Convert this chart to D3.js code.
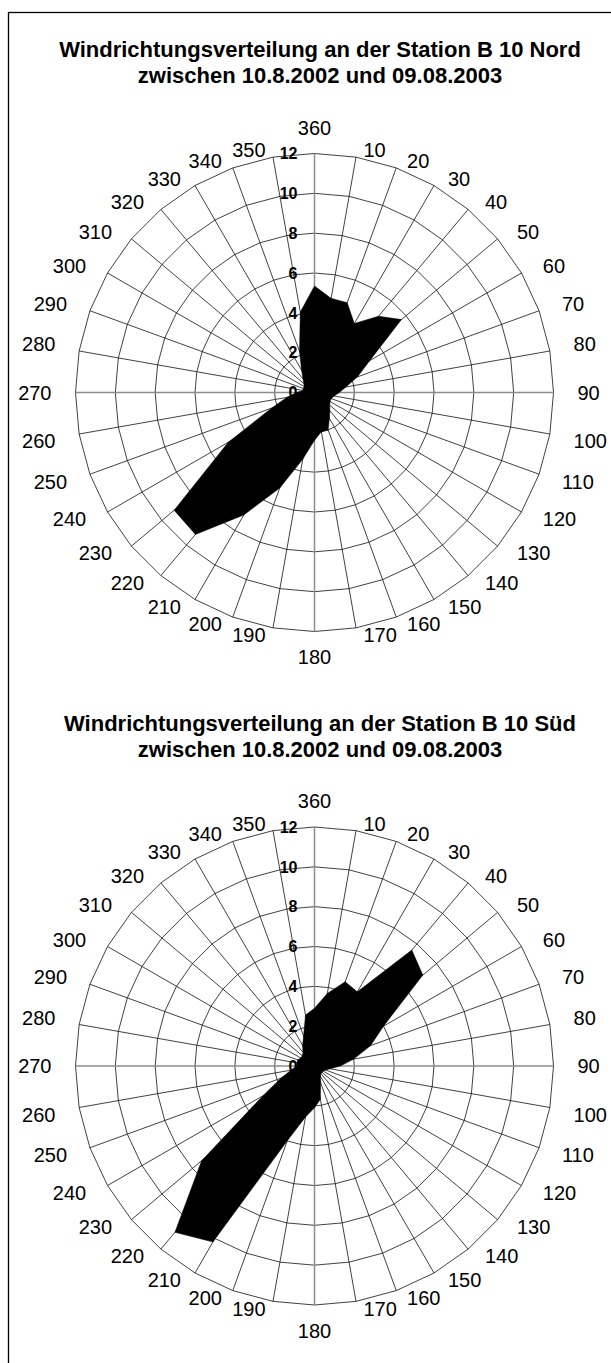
<!DOCTYPE html>
<html>
<head>
<meta charset="utf-8">
<script src="https://cdn.jsdelivr.net/npm/d3@7"></script>
<style>
  body { margin: 0; background: #fff; }
  svg { display: block; }
  text { font-family: Arial, "Liberation Sans", sans-serif; fill: #000; }
</style>
</head>
<body>
<svg id="chart" width="611" height="1363"></svg>
<script>
// Windrichtungen (Grad), im Uhrzeigersinn ab Nord
const directions = [10, 20, 30, 40, 50, 60, 70, 80, 90, 100, 110, 120,
                    130, 140, 150, 160, 170, 180, 190, 200, 210, 220, 230, 240,
                    250, 260, 270, 280, 290, 300, 310, 320, 330, 340, 350, 360];

// Häufigkeit in % – Station B 10 Nord
const nordValues = [4.8, 4.8, 4.0, 5.0, 5.7, 3.2, 2.3, 1.6, 1.25, 1.0, 0.9, 0.9,
                    1.0, 1.2, 1.5, 2.0, 2.0, 2.4, 3.4, 5.1, 7.1, 9.3, 9.2, 5.0,
                    2.3, 1.4, 0.9, 0.6, 0.6, 0.6, 0.7, 0.9, 1.3, 2.2, 4.1, 5.35];

// Häufigkeit in % – Station B 10 Süd
const suedValues = [3.7, 4.5, 4.3, 7.6, 7.1, 4.0, 3.0, 2.0, 1.3, 0.8, 0.6, 0.5,
                    0.5, 0.5, 0.6, 0.9, 1.7, 2.1, 2.6, 4.0, 10.2, 10.9, 7.4, 3.0,
                    1.8, 1.2, 0.9, 0.9, 0.9, 0.8, 0.8, 0.9, 1.2, 1.6, 2.6, 2.9];

const radialTicks = [0, 2, 4, 6, 8, 10, 12];
const subTitle = "zwischen 10.8.2002 und 09.08.2003";
const titleNord = ["Windrichtungsverteilung an der Station B 10 Nord", subTitle];
const titleSued = ["Windrichtungsverteilung an der Station B 10 Süd", subTitle];

const svg = d3.select("#chart");
const R = 239;

svg.append("rect").attr("width", 611).attr("height", 1363).attr("fill", "#fff");
// Rahmen (rechts und unten außerhalb des Bildes)
svg.append("rect")
    .attr("x", 8.5).attr("y", 12.5)
    .attr("width", 700).attr("height", 1500)
    .attr("fill", "none").attr("stroke", "#000").attr("stroke-width", 1.3);

const r = d3.scaleLinear().domain([0, 12]).range([0, R]);
const angle = d3.scaleLinear().domain([0, 360]).range([0, 2 * Math.PI]);

function drawRose(cx, cy, titleLines, values) {
    // Titel
    svg.selectAll(null)
        .data(titleLines)
        .enter()
        .append("text")
        .attr("x", 320)
        .attr("y", (d, i) => cy - 335.5 + i * 26)
        .attr("text-anchor", "middle")
        .attr("font-weight", "bold")
        .attr("font-size", 22)
        .text(d => d);

    const g = svg.append("g").attr("transform", `translate(${cx},${cy})`);

    // Ringe (Polygone)
    const ring = d3.lineRadial()
        .angle(d => angle(d.dir))
        .radius(d => r(d.v))
        .curve(d3.curveLinearClosed);

    radialTicks.filter(t => t > 0).forEach(t => {
        g.append("path")
            .attr("d", ring(directions.map(dir => ({ dir: dir, v: t }))))
            .attr("fill", "none")
            .attr("stroke", "#111")
            .attr("stroke-width", 0.8);
    });

    // Speichen
    g.selectAll(".spoke")
        .data(directions)
        .enter()
        .append("line")
        .attr("class", "spoke")
        .attr("x1", 0).attr("y1", 0)
        .attr("x2", d => r(12) * Math.sin(angle(d)))
        .attr("y2", d => -r(12) * Math.cos(angle(d)))
        .attr("stroke", d => d % 90 === 0 ? "#8c8c8c" : "#111")
        .attr("stroke-width", d => d % 90 === 0 ? 1.5 : 0.8);

    // Daten
    g.append("path")
        .attr("d", ring(directions.map((dir, i) => ({ dir: dir, v: values[i] }))))
        .attr("fill", "#000")
        .attr("stroke", "#000")
        .attr("stroke-width", 0.5);

    // Achsenbeschriftung Werte
    g.selectAll(".rtick")
        .data(radialTicks)
        .enter()
        .append("text")
        .attr("class", "rtick")
        .attr("x", -17)
        .attr("y", d => -r(d))
        .attr("dy", "0.36em")
        .attr("text-anchor", "end")
        .attr("font-weight", "bold")
        .attr("font-size", 16)
        .text(d => d);

    // Richtungsbeschriftung: Ecke des Textfelds am Speichenende, seitlich versetzt
    const capH = 14.3;
    g.selectAll(".cat")
        .data(directions)
        .enter()
        .append("text")
        .attr("class", "cat")
        .attr("font-size", 20)
        .text(d => d)
        .each(function (d) {
            const t = d3.select(this);
            const a = angle(d), s = Math.sin(a), c = Math.cos(a);
            const ex = R * s, ey = -R * c;
            if (d % 180 === 0) {
                t.attr("text-anchor", "middle").attr("x", 0)
                    .attr("y", c > 0 ? -(R + 19) : R + 18.5 + capH);
            } else if (d % 90 === 0) {
                t.attr("text-anchor", s > 0 ? "start" : "end")
                    .attr("x", s * (R + 24))
                    .attr("y", capH / 2);
            } else {
                const gx = 4 + 20 * Math.abs(s);
                t.attr("text-anchor", s > 0 ? "start" : "end")
                    .attr("x", ex + (s > 0 ? gx : -gx))
                    .attr("y", c > 0 ? ey : ey + capH);
            }
        });
}

drawRose(314.5, 392.5, titleNord, nordValues);
drawRose(314.5, 1066, titleSued, suedValues);
</script>
</body>
</html>
